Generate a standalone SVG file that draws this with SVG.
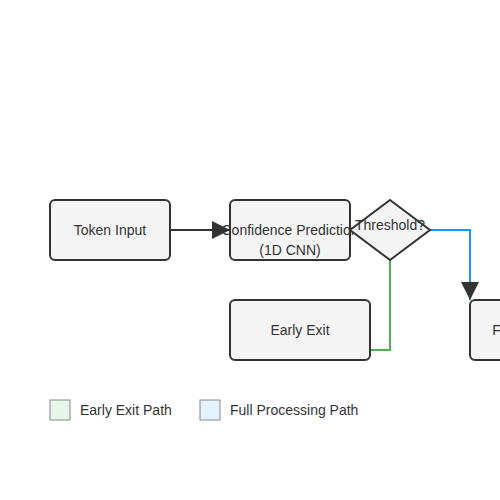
<svg xmlns="http://www.w3.org/2000/svg" width="500" height="500" viewBox="0 0 500 500">
<style>
.node{fill:#f4f4f4;stroke:#333;stroke-width:2}
.t{font-family:"Liberation Sans",Arial,sans-serif;font-size:14px;fill:#333;text-anchor:middle;dominant-baseline:central}
.lt{font-family:"Liberation Sans",Arial,sans-serif;font-size:14px;fill:#333;dominant-baseline:central}
.c{fill:none;stroke-width:2}
</style>
<defs>
<marker id="ah" viewBox="0 0 10 10" refX="10" refY="5" markerWidth="6" markerHeight="6" markerUnits="userSpaceOnUse" orient="auto">
<path d="M0,0 L10,5 L0,10 z" fill="#333"/>
</marker>
<marker id="ahb" viewBox="0 0 10 10" refX="10" refY="5" markerWidth="9" markerHeight="9" orient="auto">
<path d="M0,0 L10,5 L0,10 z" fill="#333"/>
</marker>
</defs>
<rect width="500" height="500" fill="#fff"/>
<g id="connectors">
<path class="c" d="M170,230 L230,230" stroke="#333" marker-end="url(#ahb)"/>
<path class="c" d="M390,260 L390,350 L370,350" stroke="#4caf50"/>
<path class="c" d="M430,230 L470,230 L470,300" stroke="#2196f3" marker-end="url(#ahb)"/>
</g>
<g id="token-input">
<rect class="node" x="50" y="200" width="120" height="60" rx="5"/>
<text class="t" x="110" y="230">Token Input</text>
</g>
<g id="confidence">
<rect class="node" x="230" y="200" width="120" height="60" rx="5"/>
<text class="t" x="290" y="230">Confidence Prediction</text>
<text class="t" x="290" y="250">(1D CNN)</text>
</g>
<g id="threshold">
<polygon class="node" points="390,200 430,230 390,260 350,230"/>
<text class="t" x="390" y="225">Threshold?</text>
</g>
<g id="early-exit">
<rect class="node" x="230" y="300" width="140" height="60" rx="5"/>
<text class="t" x="300" y="330">Early Exit</text>
</g>
<g id="full-processing">
<rect class="node" x="470" y="300" width="140" height="60" rx="5"/>
<text class="t" x="540" y="330">Full Processing</text>
</g>
<g id="legend">
<rect x="50" y="400" width="20" height="20" fill="#e8f5e9" stroke="#888"/>
<text class="lt" x="80" y="410">Early Exit Path</text>
<rect x="200" y="400" width="20" height="20" fill="#e3f2fd" stroke="#888"/>
<text class="lt" x="230" y="410">Full Processing Path</text>
</g>
</svg>
